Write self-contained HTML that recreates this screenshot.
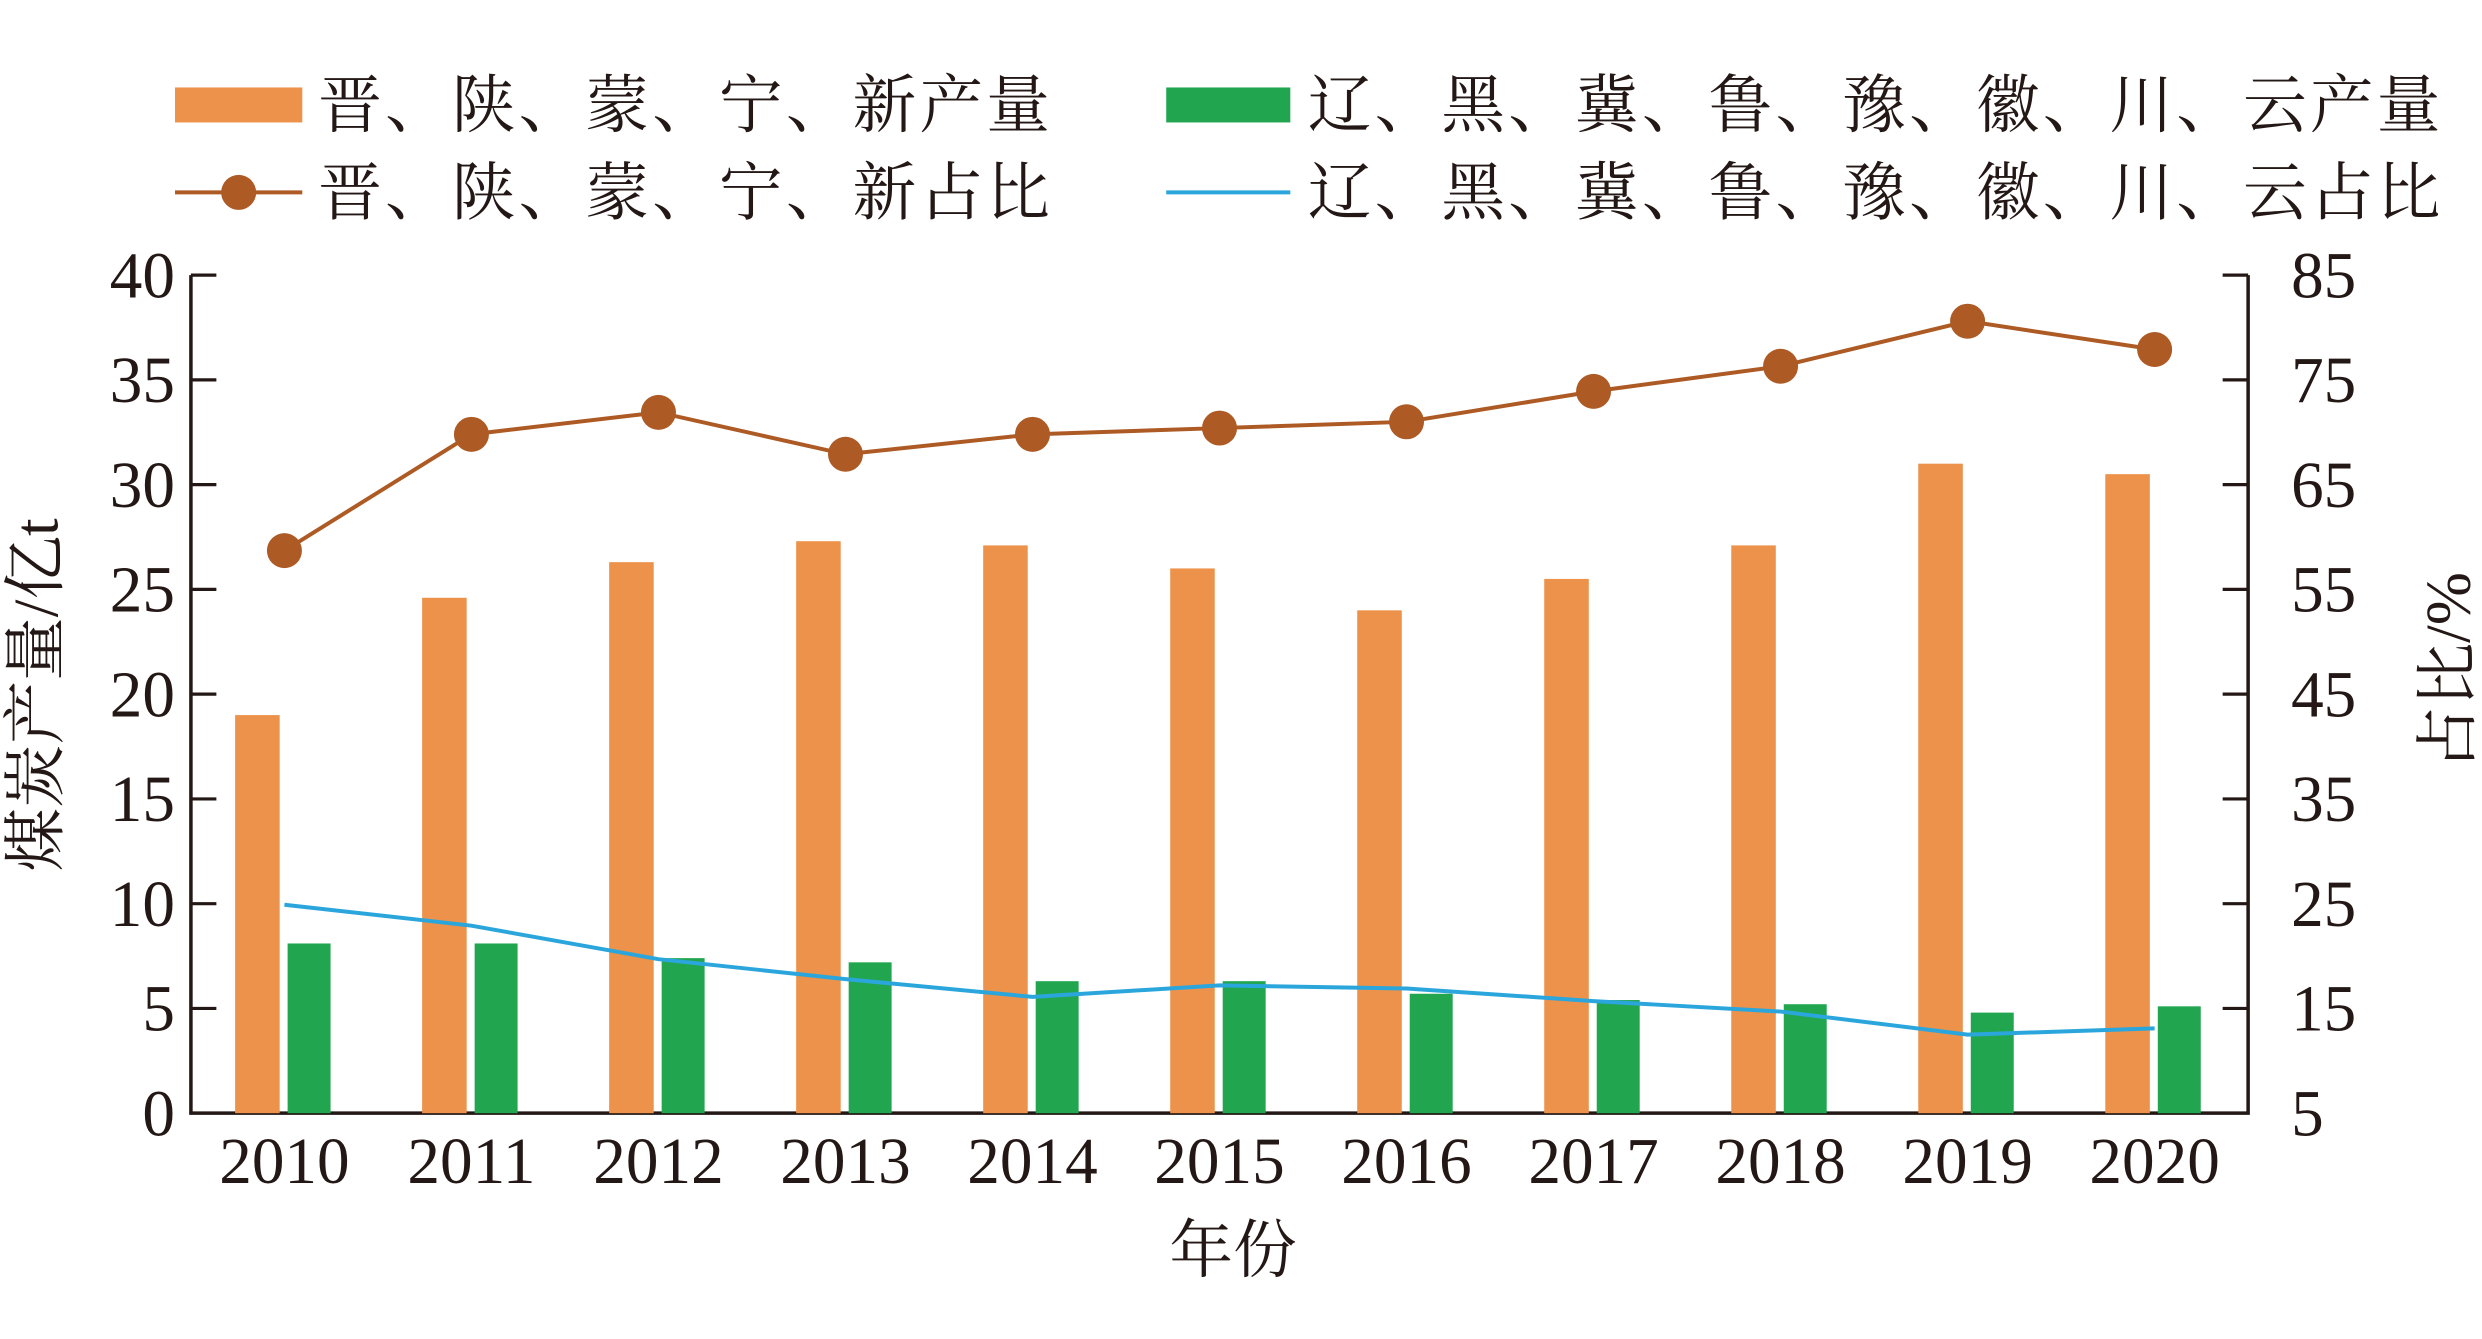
<!DOCTYPE html>
<html><head><meta charset="utf-8"><style>
html,body{margin:0;padding:0;background:#fff;}
svg{display:block;}
text{font-family:"Liberation Serif","Noto Serif CJK SC",serif;fill:#231815;}
.cjk{font-family:"Liberation Serif","Noto Serif CJK SC","Noto Sans CJK SC",serif;}
</style></head><body>
<svg id="chart" width="2482" height="1339" viewBox="0 0 1560 842" preserveAspectRatio="none" xmlns="http://www.w3.org/2000/svg">
<g id="legend">
  <g>
    <rect x="110" y="55" width="80" height="22" fill="#ec924a"/>
    <text class="cjk" x="200" y="80" font-size="40" letter-spacing="2">晋、陕、蒙、宁、新产量</text>
  </g>
  <g>
    <rect x="733" y="55" width="78" height="22" fill="#21a64f"/>
    <text class="cjk" x="822" y="80" font-size="40" letter-spacing="2">辽、黑、冀、鲁、豫、徽、川、云产量</text>
  </g>
  <g>
    <line x1="110" y1="121" x2="190" y2="121" stroke="#ad5a24" stroke-width="2.5"/>
    <circle cx="150" cy="121" r="11" fill="#ad5a24"/>
    <text class="cjk" x="200" y="135" font-size="40" letter-spacing="2">晋、陕、蒙、宁、新占比</text>
  </g>
  <g>
    <line x1="733" y1="121" x2="811" y2="121" stroke="#2ba6dc" stroke-width="2.5"/>
    <text class="cjk" x="822" y="135" font-size="40" letter-spacing="2">辽、黑、冀、鲁、豫、徽、川、云占比</text>
  </g>
</g>
<g id="axes"></g>
<g id="marks"></g>
<text class="cjk" x="775" y="800" font-size="40" text-anchor="middle">年份</text>
<text class="cjk" transform="translate(36,437) rotate(-90)" font-size="40" text-anchor="middle">煤炭产量/亿t</text>
<text class="cjk" transform="translate(1552,422) rotate(-90)" font-size="40" text-anchor="middle">占比/%</text>
</svg>
<script>
const years = ["2010","2011","2012","2013","2014","2015","2016","2017","2018","2019","2020"];
const westProduction = [19.0,24.6,26.3,27.3,27.1,26.0,24.0,25.5,27.1,31.0,30.5];
const eastProduction = [8.1,8.1,7.4,7.2,6.3,6.3,5.7,5.4,5.2,4.8,5.1];
const westShare = [58.7,69.8,71.9,67.9,69.8,70.4,71.0,73.9,76.3,80.6,77.9];
const eastShare = [24.9,22.9,19.7,17.8,16.1,17.2,16.9,15.7,14.7,12.5,13.1];
const leftTicks = [0,5,10,15,20,25,30,35,40];
const rightTicks = [5,15,25,35,45,55,65,75,85];

const NS="http://www.w3.org/2000/svg";
const X0=120,X1=1413,Y0=700,Y1=173;
const yL=v=>Y0-(v-0)/(40-0)*(Y0-Y1);
const yR=v=>Y0-(v-5)/(85-5)*(Y0-Y1);
const step=(X1-X0)/years.length;
const xC=i=>X0+step*(i+0.5);
function mk(tag,attrs,parent){const e=document.createElementNS(NS,tag);for(const k in attrs)e.setAttribute(k,attrs[k]);parent.appendChild(e);return e;}
const axes=document.getElementById('axes'),marks=document.getElementById('marks');

years.forEach((y,i)=>{
  const a=mk('rect',{x:xC(i)-31,y:yL(westProduction[i]),width:28,height:Y0-yL(westProduction[i]),fill:'#ec924a'},marks);
  
  
  const b=mk('rect',{x:xC(i)+2,y:yL(eastProduction[i]),width:27,height:Y0-yL(eastProduction[i]),fill:'#21a64f'},marks);
  
  
});
const bl=mk('polyline',{points:eastShare.map((v,i)=>xC(i)+','+yR(v)).join(' '),fill:'none',stroke:'#2ba6dc','stroke-width':2.5,'stroke-linejoin':'round'},marks);


const wl=mk('polyline',{points:westShare.map((v,i)=>xC(i)+','+yR(v)).join(' '),fill:'none',stroke:'#ad5a24','stroke-width':2.5},marks);


westShare.forEach((v,i)=>{
  const c=mk('circle',{cx:xC(i),cy:yR(v),r:11,fill:'#ad5a24'},marks);
  
  
});
const ax=mk('path',{d:`M${X0},${Y1} V${Y0} H${X1} V${Y1}`,fill:'none',stroke:'#231815','stroke-width':2.2},axes);


leftTicks.forEach(v=>{
  if(v>0){const t=mk('line',{x1:X0,x2:X0+16,y1:yL(v),y2:yL(v),stroke:'#231815','stroke-width':2},axes);
  
  }
  const l=mk('text',{x:110,y:yL(v)+14,'font-size':41,'text-anchor':'end'},axes);
  l.textContent=v;
  
  
});
rightTicks.forEach(v=>{
  if(v>5){const t=mk('line',{x1:X1-16,x2:X1,y1:yR(v),y2:yR(v),stroke:'#231815','stroke-width':2},axes);
  
  }
  const l=mk('text',{x:1440,y:yR(v)+14,'font-size':41},axes);
  l.textContent=v;
  
  
});
years.forEach((y,i)=>{
  const l=mk('text',{x:xC(i),y:744,'font-size':41,'text-anchor':'middle'},axes);
  l.textContent=y;
  
  
});
</script>
</body></html>
